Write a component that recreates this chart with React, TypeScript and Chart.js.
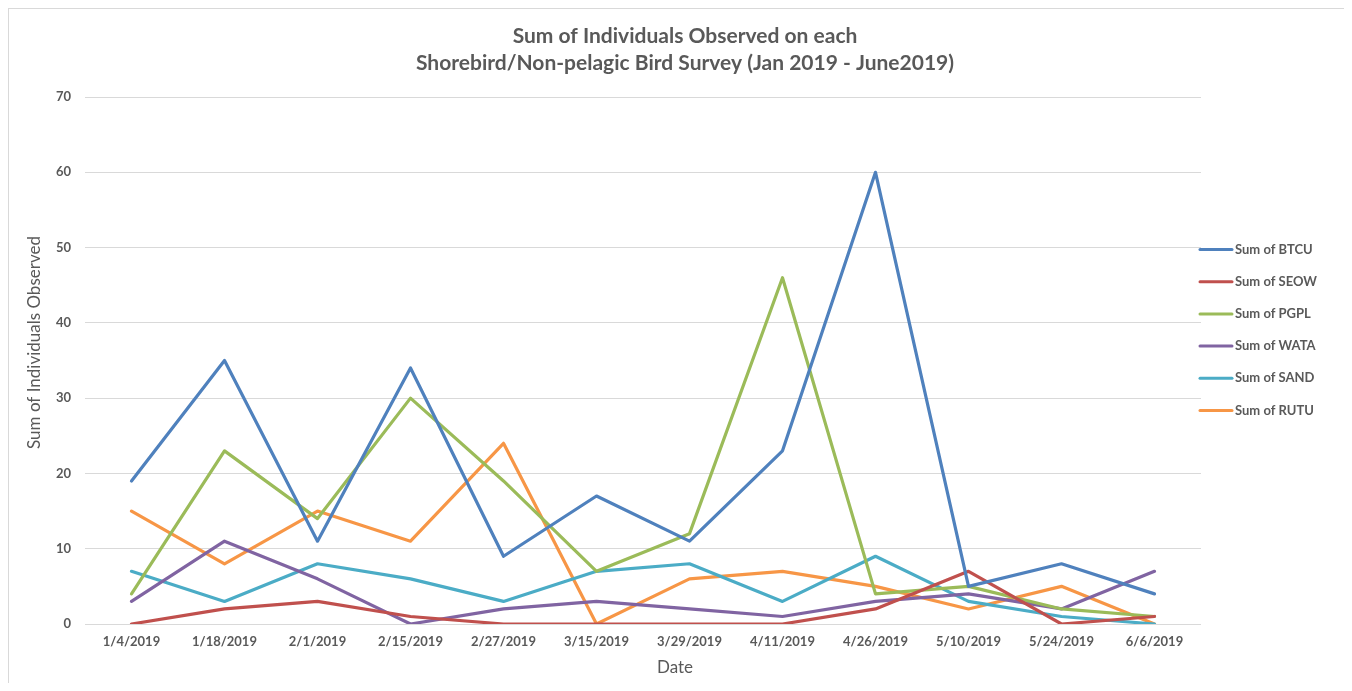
import { useEffect, useRef } from "react";
import { Chart, registerables } from "chart.js";

Chart.register(...registerables);

// Survey dates (category axis)
const surveyDates = [
  "1/4/2019", "1/18/2019", "2/1/2019", "2/15/2019", "2/27/2019", "3/15/2019",
  "3/29/2019", "4/11/2019", "4/26/2019", "5/10/2019", "5/24/2019", "6/6/2019",
];

// Individuals observed per species on each survey
const btcu = [19, 35, 11, 34, 9, 17, 11, 23, 60, 5, 8, 4];
const seow = [0, 2, 3, 1, 0, 0, 0, 0, 2, 7, 0, 1];
const pgpl = [4, 23, 14, 30, 19, 7, 12, 46, 4, 5, 2, 1];
const wata = [3, 11, 6, 0, 2, 3, 2, 1, 3, 4, 2, 7];
const sand = [7, 3, 8, 6, 3, 7, 8, 3, 9, 3, 1, 0];
const rutu = [15, 8, 15, 11, 24, 0, 6, 7, 5, 2, 5, 0];

const seriesNames = [
  "Sum of BTCU", "Sum of SEOW", "Sum of PGPL", "Sum of WATA", "Sum of SAND", "Sum of RUTU",
];
const seriesColors = ["#4F81BD", "#C0504D", "#9BBB59", "#8064A2", "#4BACC6", "#F79646"];

const titleLines = [
  "Sum of Individuals Observed on each",
  "Shorebird/Non-pelagic Bird Survey (Jan 2019 - June2019)",
];
const yAxisTitle = "Sum of Individuals Observed";
const xAxisTitle = "Date";

const FONT = "Lato, 'Noto Sans', sans-serif";
const TEXT = "#595959";

// Title, axis titles and the right-hand legend, drawn on top of the plot
const decorations = {
  id: "decorations",
  afterDraw(chart: any) {
    const ctx = chart.ctx as CanvasRenderingContext2D;
    ctx.save();
    ctx.fillStyle = TEXT;
    ctx.textAlign = "center";
    ctx.textBaseline = "middle";

    ctx.font = `bold 21px ${FONT}`;
    ctx.fillText(titleLines[0], 676, 27);
    ctx.fillText(titleLines[1], 676, 54);

    ctx.font = `17px ${FONT}`;
    ctx.fillText(xAxisTitle, 666, 659);

    ctx.save();
    ctx.translate(26, 333.5);
    ctx.rotate(-Math.PI / 2);
    ctx.fillText(yAxisTitle, 0, 0);
    ctx.restore();

    ctx.font = `bold 13px ${FONT}`;
    ctx.textAlign = "left";
    chart.data.datasets.forEach((ds: any, i: number) => {
      const y = 240.5 + i * 32.2;
      ctx.strokeStyle = ds.borderColor;
      ctx.lineWidth = 3;
      ctx.lineCap = "round";
      ctx.beginPath();
      ctx.moveTo(1191, y);
      ctx.lineTo(1223, y);
      ctx.stroke();
      ctx.fillText(ds.label, 1226, y);
    });
    ctx.restore();
  },
};

export default function App() {
  const canvasRef = useRef<HTMLCanvasElement | null>(null);

  useEffect(() => {
    if (!canvasRef.current) return;
    const values = [btcu, seow, pgpl, wata, sand, rutu];
    const chart = new Chart(canvasRef.current, {
      type: "line",
      data: {
        labels: surveyDates,
        datasets: values.map((v, i) => ({
          label: seriesNames[i],
          data: v,
          borderColor: seriesColors[i],
          backgroundColor: seriesColors[i],
          borderWidth: 3.2,
          pointRadius: 0,
          tension: 0,
          borderJoinStyle: "round" as const,
          borderCapStyle: "round" as const,
        })),
      },
      options: {
        responsive: false,
        animation: false,
        layout: { padding: { left: 0, right: 143, top: 88, bottom: 0 } },
        plugins: {
          legend: { display: false },
          title: { display: false },
          tooltip: { enabled: false },
        },
        scales: {
          x: {
            offset: true,
            grid: { display: false, drawTicks: false },
            border: { display: false },
            ticks: {
              color: TEXT,
              font: { family: FONT, size: 13, weight: "bold" },
              padding: 10,
              maxRotation: 0,
              autoSkip: false,
            },
            afterFit(scale: any) {
              scale.height = 59;
            },
          },
          y: {
            min: 0,
            max: 70,
            ticks: {
              stepSize: 10,
              color: TEXT,
              font: { family: FONT, size: 13, weight: "bold" },
              padding: 14,
            },
            grid: { color: "#D9D9D9", lineWidth: 1, drawTicks: false },
            border: { display: false },
            afterFit(scale: any) {
              scale.width = 76;
            },
          },
        },
      },
      plugins: [decorations],
    });
    return () => chart.destroy();
  }, []);

  return (
    <div
      style={{
        width: 1336,
        height: 675,
        borderTop: "1px solid #D9D9D9",
        borderLeft: "1px solid #D9D9D9",
        boxSizing: "border-box",
        background: "#fff",
      }}
    >
      <canvas ref={canvasRef} width={1335} height={674} style={{ display: "block" }} />
    </div>
  );
}
